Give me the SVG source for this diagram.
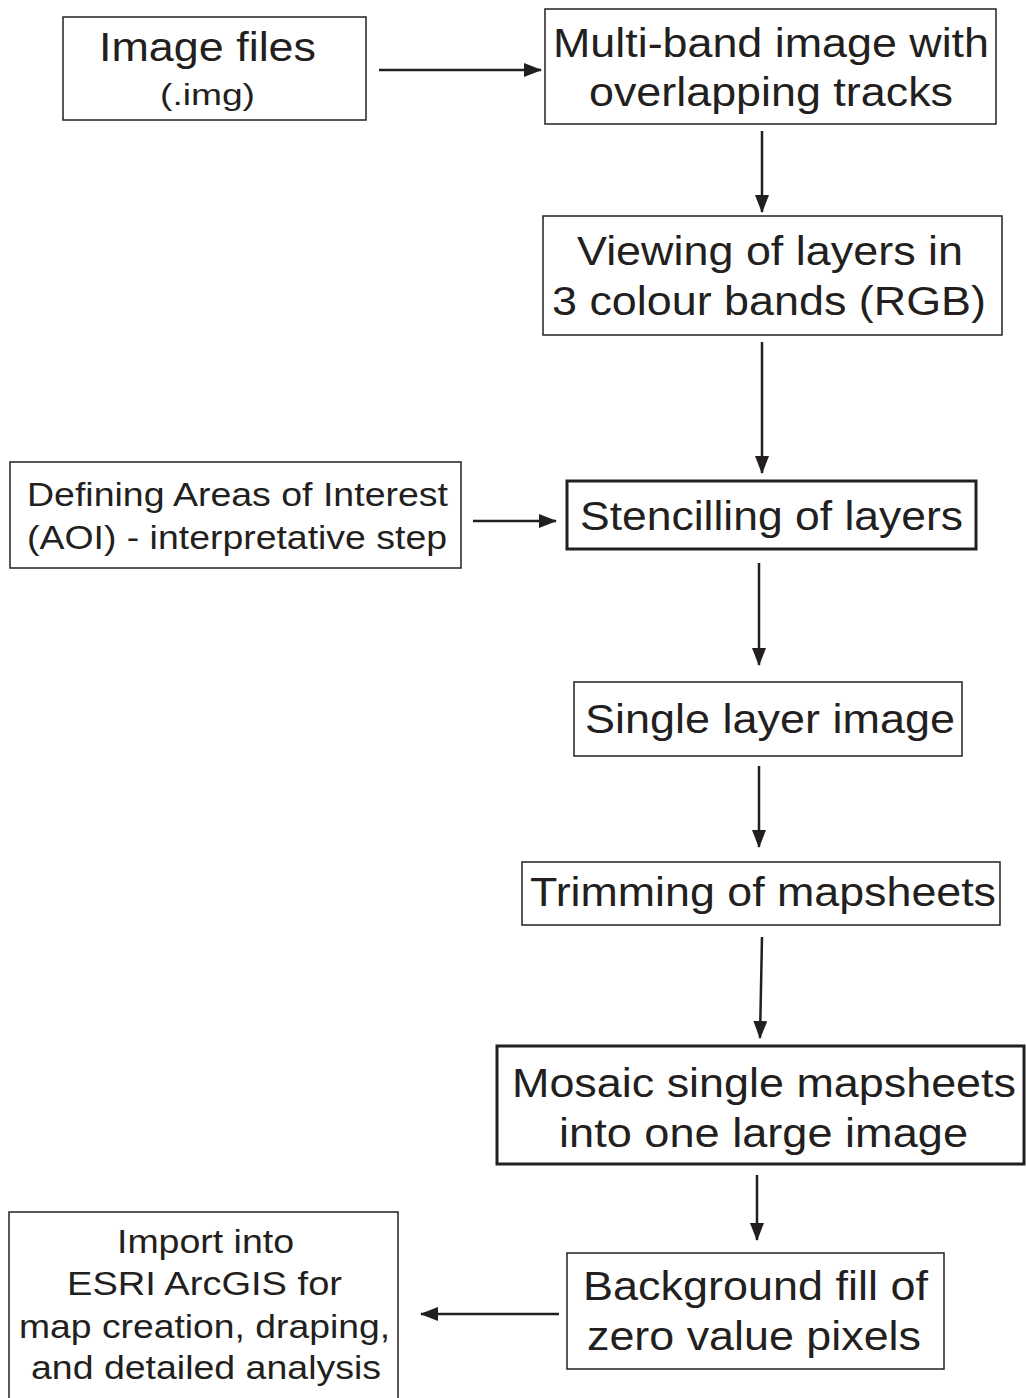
<svg xmlns="http://www.w3.org/2000/svg" width="1026" height="1398" viewBox="0 0 1026 1398">
<style>
.box{fill:#fff;stroke:#231f20;stroke-width:1.5}
.thick{stroke-width:3}
.t{font-family:"Liberation Sans",Arial,sans-serif;fill:#231f20;text-anchor:middle}
.l{font-size:40px}
.s{font-size:33px}
.c{stroke:#231f20;stroke-width:2.5;fill:none}
</style>
<defs>
<marker id="ah" markerWidth="18" markerHeight="14" refX="17" refY="7" orient="auto" markerUnits="userSpaceOnUse">
<path d="M0,0 L18,7 L0,14 Z" fill="#231f20"/>
</marker>
</defs>
<rect width="1026" height="1398" fill="#fff"/>
<g id="connectors">
<line class="c" x1="379" y1="70" x2="541" y2="70" marker-end="url(#ah)"/>
<line class="c" x1="762" y1="131" x2="762" y2="212" marker-end="url(#ah)"/>
<line class="c" x1="762" y1="342" x2="762" y2="473" marker-end="url(#ah)"/>
<line class="c" x1="473" y1="521" x2="556" y2="521" marker-end="url(#ah)"/>
<line class="c" x1="759" y1="563" x2="759" y2="665" marker-end="url(#ah)"/>
<line class="c" x1="759" y1="766" x2="759" y2="847" marker-end="url(#ah)"/>
<line class="c" x1="762" y1="937" x2="760" y2="1038" marker-end="url(#ah)"/>
<line class="c" x1="757" y1="1175" x2="757" y2="1240" marker-end="url(#ah)"/>
<line class="c" x1="559" y1="1314" x2="421" y2="1314" marker-end="url(#ah)"/>
</g>
<g id="n1">
<rect class="box" x="63" y="17" width="303" height="103"/>
<text class="t l" x="207.5" y="61" textLength="217" lengthAdjust="spacingAndGlyphs">Image files</text>
<text class="t" x="207.5" y="105" font-size="30" textLength="95" lengthAdjust="spacingAndGlyphs">(.img)</text>
</g>
<g id="n2">
<rect class="box" x="545" y="9" width="451" height="115"/>
<text class="t l" x="771" y="57" textLength="436" lengthAdjust="spacingAndGlyphs">Multi-band image with</text>
<text class="t l" x="771" y="106" textLength="364" lengthAdjust="spacingAndGlyphs">overlapping tracks</text>
</g>
<g id="n3">
<rect class="box" x="543" y="216" width="459" height="119"/>
<text class="t l" x="770" y="265" textLength="386" lengthAdjust="spacingAndGlyphs">Viewing of layers in</text>
<text class="t l" x="769" y="315" textLength="434" lengthAdjust="spacingAndGlyphs">3 colour bands (RGB)</text>
</g>
<g id="n4">
<rect class="box" x="10" y="462" width="451" height="106"/>
<text class="t s" x="237.5" y="506" textLength="421" lengthAdjust="spacingAndGlyphs">Defining Areas of Interest</text>
<text class="t s" x="237" y="549" textLength="420" lengthAdjust="spacingAndGlyphs">(AOI) - interpretative step</text>
</g>
<g id="n5">
<rect class="box thick" x="567" y="481" width="409" height="68"/>
<text class="t l" x="771.5" y="530" textLength="383" lengthAdjust="spacingAndGlyphs">Stencilling of layers</text>
</g>
<g id="n6">
<rect class="box" x="574" y="682" width="388" height="74"/>
<text class="t l" x="770" y="733" textLength="370" lengthAdjust="spacingAndGlyphs">Single layer image</text>
</g>
<g id="n7">
<rect class="box" x="522" y="862" width="478" height="63"/>
<text class="t l" x="763" y="906" textLength="466" lengthAdjust="spacingAndGlyphs">Trimming of mapsheets</text>
</g>
<g id="n8">
<rect class="box thick" x="497" y="1046" width="527" height="118"/>
<text class="t l" x="764" y="1097" textLength="504" lengthAdjust="spacingAndGlyphs">Mosaic single mapsheets</text>
<text class="t l" x="763.5" y="1147" textLength="409" lengthAdjust="spacingAndGlyphs">into one large image</text>
</g>
<g id="n9">
<rect class="box" x="567" y="1253" width="377" height="116"/>
<text class="t l" x="755.5" y="1300" textLength="345" lengthAdjust="spacingAndGlyphs">Background fill of</text>
<text class="t l" x="754" y="1350" textLength="334" lengthAdjust="spacingAndGlyphs">zero value pixels</text>
</g>
<g id="n10">
<rect class="box" x="9" y="1212" width="389" height="200"/>
<text class="t s" x="205.5" y="1253" textLength="177" lengthAdjust="spacingAndGlyphs">Import into</text>
<text class="t s" x="204.5" y="1295" textLength="275" lengthAdjust="spacingAndGlyphs">ESRI ArcGIS for</text>
<text class="t s" x="204.5" y="1338" textLength="371" lengthAdjust="spacingAndGlyphs">map creation, draping,</text>
<text class="t s" x="206" y="1379" textLength="350" lengthAdjust="spacingAndGlyphs">and detailed analysis</text>
</g>
</svg>
